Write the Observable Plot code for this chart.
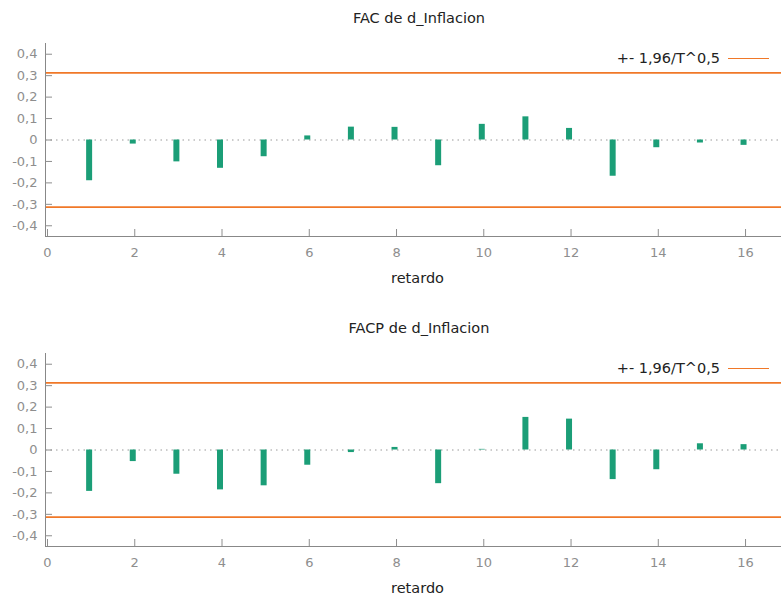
<!DOCTYPE html>
<html><head><meta charset="utf-8">
<script src="https://cdn.jsdelivr.net/npm/d3@7"></script>
<script src="https://cdn.jsdelivr.net/npm/@observablehq/plot@0.6"></script>
<style>
body{margin:0;background:#fff;font-family:"DejaVu Sans",sans-serif;}
#wrap{position:relative;width:781px;height:594px;overflow:hidden;background:#fff}
.panel{position:absolute;left:0;width:781px}
.title{position:absolute;left:219px;width:400px;text-align:center;font-size:14.5px;color:#222;line-height:16px}
.legline{position:absolute;width:41px;height:0;border-top:1.5px solid #f07828}
</style>
</head><body>
<div id="wrap"></div>
<script>
const lags = [1,2,3,4,5,6,7,8,9,10,11,12,13,14,15,16];
const facValues  = [-0.190,-0.019,-0.102,-0.132,-0.078,0.019,0.060,0.059,-0.120,0.073,0.108,0.054,-0.169,-0.036,-0.014,-0.025];
const facpValues = [-0.193,-0.054,-0.113,-0.186,-0.167,-0.071,-0.012,0.012,-0.157,0.003,0.152,0.144,-0.138,-0.092,0.029,0.025];
const bandValue = 0.313;
const yTicks = [-0.4,-0.3,-0.2,-0.1,0,0.1,0.2,0.3,0.4];
const xTicks = [0,2,4,6,8,10,12,14,16];
const titles = ["FAC de d_Inflacion", "FACP de d_Inflacion"];
const legendText = "+- 1,96/T^0,5";
const xLabel = "retardo";

const green = "#1b9e77", orange = "#f07828", gray = "#8e8e8e";
const fmt = d => d === 0 ? "0" : d3.format(".1f")(d).replace(".", ",").replace("\u2212", "-");

function makePlot(values) {
  const data = lags.map((l, i) => ({lag: l, value: values[i]}));
  return Plot.plot({
    width: 781, height: 260,
    marginLeft: 45, marginRight: 0, marginTop: 13, marginBottom: 54,
    style: {fontFamily: "DejaVu Sans, sans-serif", fontSize: "13px", background: "transparent"},
    x: {domain: [0, 16.87]},
    y: {domain: [-0.45, 0.45]},
    marks: [
      Plot.ruleY([0], {stroke: "#999", strokeDasharray: "1.5,4"}),
      Plot.ruleY([bandValue, -bandValue], {stroke: orange, strokeWidth: 1.6}),
      Plot.ruleX(data, {x: "lag", y1: 0, y2: "value", stroke: green, strokeWidth: 6}),
      Plot.ruleX([0], {stroke: "#888"}),
      Plot.ruleY([-0.45], {stroke: "#888"}),
      Plot.axisY(yTicks, {tickSize: -7, tickPadding: 15, tickFormat: fmt, color: gray, label: null}),
      Plot.axisX(xTicks, {tickSize: -7, tickPadding: 18, tickFormat: d => String(d), color: gray, label: null, dx: 2}),
      Plot.text([xLabel], {frameAnchor: "bottom", dy: 46, dx: 4, fill: "#222", fontSize: 14.5})
    ]
  });
}

const wrap = document.getElementById("wrap");
const panelTops = [0, 310];
[facValues, facpValues].forEach((vals, k) => {
  const top = panelTops[k];
  const p = document.createElement("div");
  p.className = "panel";
  p.style.top = top + "px";
  p.style.height = "290px";
  const svgHolder = document.createElement("div");
  svgHolder.style.position = "absolute";
  svgHolder.style.top = "30px";
  svgHolder.style.left = "0px";
  svgHolder.appendChild(makePlot(vals));
  p.appendChild(svgHolder);
  const t = document.createElement("div");
  t.className = "title";
  t.style.top = "10px";
  t.textContent = titles[k];
  p.appendChild(t);
  const lt = document.createElement("div");
  lt.style.cssText = "position:absolute;right:61px;top:50px;font-size:14.5px;color:#222;line-height:16px;white-space:nowrap";
  lt.textContent = legendText;
  p.appendChild(lt);
  const ll = document.createElement("div");
  ll.className = "legline";
  ll.style.left = "728px";
  ll.style.top = "58px";
  p.appendChild(ll);
  wrap.appendChild(p);
});
</script>
</body></html>
